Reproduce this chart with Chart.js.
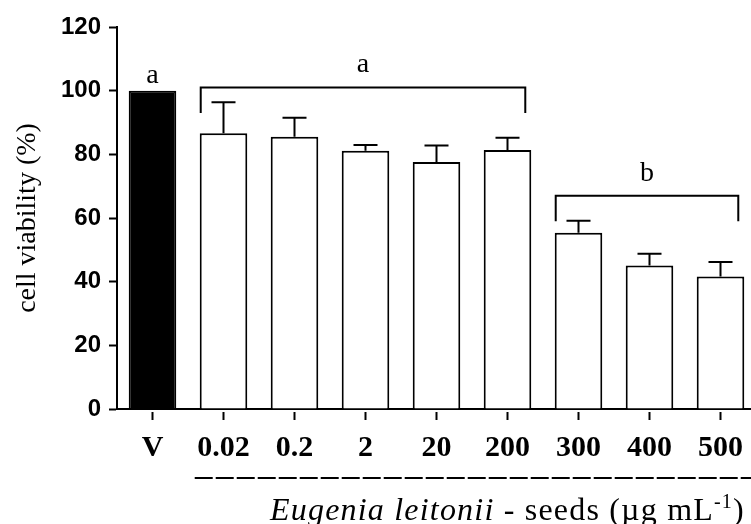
<!DOCTYPE html>
<html>
<head>
<meta charset="utf-8">
<script src="https://cdn.jsdelivr.net/npm/chart.js@4"></script>
<style>
    html, body { margin: 0; padding: 0; background: #fff; overflow: hidden; }
    #wrap { width: 756px; height: 524px; }
</style>
</head>
<body>
<div id="wrap"><canvas id="viabilityChart"></canvas></div>
<script>
const doses = ['V', '0.02', '0.2', '2', '20', '200', '300', '400', '500'];
const viability = [100, 86.6, 85.5, 81.1, 77.6, 81.4, 55.4, 45.1, 41.6];
const viabilityErr = [0, 9.8, 6.0, 1.8, 5.2, 3.8, 3.7, 3.7, 4.6];
const barLetters = ['a', '', '', '', '', '', '', '', ''];

// significance brackets: first bar, last bar, height (%), letter
const bracketFrom = [1, 6];
const bracketTo = [5, 8];
const bracketLevel = [101, 67];
const bracketLabels = ['a', 'b'];

const yTicks = [0, 20, 40, 60, 80, 100, 120];

const SERIF = '"Liberation Serif", "Times New Roman", serif';
const SANS = '"Liberation Sans", Arial, sans-serif';

const annotations = {
    id: 'annotations',
    afterDatasetsDraw(chart) {
        const ctx = chart.ctx;
        const y = chart.scales.y;
        const bars = chart.getDatasetMeta(0).data;

        ctx.save();
        ctx.strokeStyle = '#000';
        ctx.fillStyle = '#000';
        ctx.lineWidth = 2;

        // error bars (upper half only)
        for (let i = 0; i < bars.length; i++) {
            if (!viabilityErr[i]) continue;
            const x = bars[i].x;
            const top = y.getPixelForValue(viability[i]);
            const tip = y.getPixelForValue(viability[i] + viabilityErr[i]);
            ctx.beginPath();
            ctx.moveTo(x, top);
            ctx.lineTo(x, tip);
            ctx.moveTo(x - 12, tip);
            ctx.lineTo(x + 12, tip);
            ctx.stroke();
        }

        ctx.font = '28px ' + SERIF;
        ctx.textAlign = 'center';
        ctx.textBaseline = 'alphabetic';

        // letters over single bars
        for (let i = 0; i < bars.length; i++) {
            if (!barLetters[i]) continue;
            ctx.fillText(barLetters[i], bars[i].x, y.getPixelForValue(viability[i]) - 8);
        }

        // brackets
        for (let k = 0; k < bracketFrom.length; k++) {
            const b0 = bars[bracketFrom[k]];
            const b1 = bars[bracketTo[k]];
            const x0 = b0.x - b0.width / 2 + 1;
            const x1 = b1.x + b1.width / 2 - 6;
            const yl = y.getPixelForValue(bracketLevel[k]);
            const ye = y.getPixelForValue(bracketLevel[k] - 8);
            ctx.beginPath();
            ctx.moveTo(x0, ye);
            ctx.lineTo(x0, yl);
            ctx.lineTo(x1, yl);
            ctx.lineTo(x1, ye);
            ctx.stroke();
            ctx.fillText(bracketLabels[k], (x0 + x1) / 2, yl - 15);
        }

        // dashed rule under the extract doses
        const first = bars[1];
        ctx.setLineDash([18, 3]);
        ctx.beginPath();
        ctx.moveTo(first.x - first.width / 2 - 5, 478);
        ctx.lineTo(chart.width, 478);
        ctx.stroke();
        ctx.setLineDash([]);

        // axis title with italic species name and superscript
        const parts = [
            {text: 'Eugenia leitonii', font: 'italic 32px ' + SERIF, dy: 0},
            {text: ' - seeds (\u00b5g mL', font: '32px ' + SERIF, dy: 0},
            {text: '-1', font: '20px ' + SERIF, dy: -12},
            {text: ')', font: '32px ' + SERIF, dy: 0}
        ];
        ctx.textAlign = 'left';
        ctx.letterSpacing = '1.2px';
        let tx = 270;
        for (const p of parts) {
            ctx.font = p.font;
            ctx.fillText(p.text, tx, 520 + p.dy);
            tx += ctx.measureText(p.text).width;
        }
        ctx.letterSpacing = '0px';
        ctx.restore();
    }
};

const config = {
    type: 'bar',
    data: {
        labels: doses,
        datasets: [{
            data: viability,
            backgroundColor: doses.map((d, i) => i === 0 ? '#000' : '#fff'),
            borderColor: '#000',
            borderWidth: 2,
            categoryPercentage: 1,
            barPercentage: 0.67
        }]
    },
    options: {
        responsive: true,
        maintainAspectRatio: false,
        devicePixelRatio: 1,
        animation: false,
        layout: { padding: { top: 27, right: 0, left: 0, bottom: 0 } },
        plugins: {
            legend: { display: false },
            tooltip: { enabled: false }
        },
        scales: {
            x: {
                grid: {
                    display: true,
                    drawOnChartArea: false,
                    offset: false,
                    tickLength: 11,
                    tickWidth: 2,
                    tickColor: '#000',
                    tickBorderDash: [8, 2],
                    tickBorderDashOffset: 8
                },
                border: { display: true, color: '#000', width: 2 },
                ticks: {
                    color: '#000',
                    padding: 10,
                    maxRotation: 0,
                    font: { family: SERIF, size: 30, weight: 'bold' }
                },
                afterFit(scale) { scale.height = 115; }
            },
            y: {
                min: 0,
                max: 120,
                afterBuildTicks(scale) { scale.ticks = yTicks.map(v => ({value: v})); },
                grid: {
                    display: true,
                    drawOnChartArea: false,
                    tickLength: 8,
                    tickWidth: 2,
                    tickColor: '#000'
                },
                border: { display: true, color: '#000', width: 2 },
                ticks: {
                    color: '#000',
                    padding: 8,
                    font: { family: SANS, size: 24, weight: 'bold' }
                },
                title: {
                    display: true,
                    text: 'cell viability (%)',
                    color: '#000',
                    padding: { top: 11, bottom: 0 },
                    font: { family: SERIF, size: 28 }
                },
                afterFit(scale) { scale.width = 117; }
            }
        }
    },
    plugins: [annotations]
};

const chart = new Chart(document.getElementById('viabilityChart'), config);
</script>
</body>
</html>
